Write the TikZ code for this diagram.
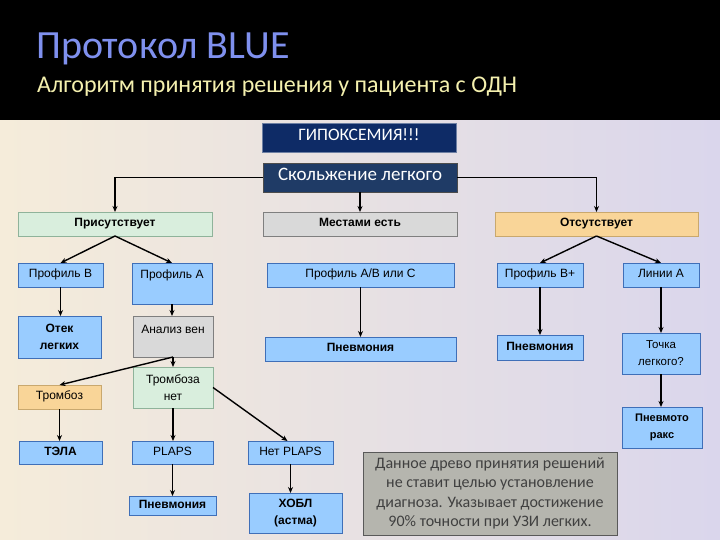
\documentclass[tikz,border=0pt]{standalone}
\usepackage{fontspec}
\setmainfont{Liberation Sans}
\newfontfamily\calib{Carlito}
\usetikzlibrary{arrows.meta}
\definecolor{bluef}{HTML}{99CCFF}
\definecolor{blued}{HTML}{3F6FB8}
\definecolor{greenf}{HTML}{D9EEDD}
\definecolor{greend}{HTML}{8FB39A}
\definecolor{greyf}{HTML}{D9D9D9}
\definecolor{greyd}{HTML}{7F7F7F}
\definecolor{orangef}{HTML}{F9D598}
\definecolor{oranged}{HTML}{C9A86E}
\definecolor{navyf}{HTML}{0E2B66}
\definecolor{darkbf}{HTML}{1F3B66}
\definecolor{notef}{HTML}{B5B5AE}
\definecolor{titleblue}{HTML}{7F90EE}
\definecolor{titleyellow}{HTML}{F4F0AE}
\definecolor{bgleft}{HTML}{F5ECDA}
\definecolor{bgright}{HTML}{DAD6EC}
\tikzset{
  base/.style={draw, line width=0.9pt, inner sep=0pt, outer sep=0pt, align=center, font=\fontsize{12}{16.5}\selectfont},
  one/.style={text height=0.72em, text depth=0.2em},
  bluebox/.style={base, fill=bluef, draw=blued},
  greenbox/.style={base, fill=greenf, draw=greend},
  greybox/.style={base, fill=greyf, draw=greyd},
  orangebox/.style={base, fill=orangef, draw=oranged},
  bld/.style={font=\fontsize{12}{16.5}\selectfont\bfseries},
  arr/.style={line width=1.4pt, -{Stealth[length=6pt,width=5pt]}},
  plain/.style={inner sep=0pt, font=\fontsize{12}{14}\selectfont}
}
\begin{document}
\begin{tikzpicture}[x=1pt,y=-1pt]
\useasboundingbox (0,0) rectangle (720,540);
\shade[left color=bgleft, right color=bgright] (0,120) rectangle (720,540);
\fill[black] (0,0) rectangle (720,120);
\node[anchor=base west, inner sep=0pt, text=titleblue, font=\calib\fontsize{40}{42}\selectfont] (title) at (36,59) {Протокол BLUE};
\node[anchor=base west, inner sep=0pt, text=titleyellow, font=\calib\fontsize{24}{26}\selectfont] (subtitle) at (37,93) {Алгоритм принятия решения у пациента с ОДН};

% top
\node[base, one, fill=navyf, draw=navyf!60!white, text=white, minimum width=194, minimum height=29, font=\calib\fontsize{17.5}{19}\selectfont] (hyp) at (359,137.5) {ГИПОКСЕМИЯ!!!};
\node[base, one, fill=darkbf, draw=black!70, text=white, minimum width=194, minimum height=29, font=\calib\fontsize{19}{21}\selectfont] (sl) at (360,177.5) {Скольжение легкого};

% row 1
\node[greenbox, one, bld, minimum width=194, minimum height=24] (pres) at (115,224) {Присутствует};
\node[greybox, one, bld, minimum width=194, minimum height=24] (mest) at (360,224) {Местами есть};
\node[orangebox, one, bld, minimum width=203, minimum height=24] (abs) at (596.5,224) {Отсутствует};

% row 2
\node[bluebox, one, minimum width=85, minimum height=24] (pB) at (60.5,275) {Профиль B};
\node[bluebox, minimum width=80, minimum height=41] (pA) at (172,283.5) {};
\node[plain] (pAt) at (172,275) {Профиль A};
\node[bluebox, one, minimum width=187, minimum height=24] (abc) at (360.5,275) {Профиль A/B или C};
\node[bluebox, one, minimum width=86, minimum height=24] (pBp) at (540,275) {Профиль B+};
\node[bluebox, one, minimum width=76, minimum height=24] (linA) at (661,275) {Линии A};

% row 3
\node[bluebox, bld, minimum width=83, minimum height=42] (otek) at (59.5,337) {Отек\\легких};
\node[greybox, minimum width=80, minimum height=41] (vein) at (173,336.5) {};
\node[plain] (veint) at (173,329) {Анализ вен};
\node[bluebox, one, bld, minimum width=191, minimum height=24] (pnM) at (360.5,349) {Пневмония};
\node[bluebox, one, bld, minimum width=86, minimum height=25] (pnR) at (540,347.5) {Пневмония};
\node[bluebox, minimum width=78, minimum height=41, font=\fontsize{11.5}{17}\selectfont] (tochka) at (661,353.5) {Точка\\легкого?};

% row 4
\node[orangebox, one, minimum width=83, minimum height=24] (tromb) at (59.5,397) {Тромбоз};
\node[greenbox, minimum width=80, minimum height=41, font=\fontsize{12}{17}\selectfont] (trnet) at (173,387.5) {Тромбоза\\нет};
\node[bluebox, minimum width=80, minimum height=41, font=\fontsize{11}{17}\selectfont\bfseries] (ptx) at (662,427.5) {Пневмото\\ракс};

% row 5
\node[bluebox, one, bld, minimum width=83, minimum height=23] (tela) at (60.5,452.5) {ТЭЛА};
\node[bluebox, one, minimum width=81, minimum height=23] (plaps) at (172.5,452.5) {PLAPS};
\node[bluebox, one, minimum width=85, minimum height=23] (noplaps) at (290.5,452.5) {Нет PLAPS};

% row 6
\node[bluebox, one, bld, minimum width=87, minimum height=19] (pnB) at (172.5,505.5) {Пневмония};
\node[bluebox, minimum width=93, minimum height=40, font=\fontsize{12}{17}\selectfont\bfseries] (hobl) at (295.5,513) {ХОБЛ\\(астма)};

% note
\node[base, fill=notef, draw=black!65, text=black!75, minimum width=254, minimum height=83, font=\calib\fontsize{16}{19.3}\selectfont] (note) at (490,493.5) {Данное древо принятия решений\\не ставит целью установление\\диагноза. Указывает достижение\\90\% точности при УЗИ легких.};

% connectors
\draw[arr] (sl.west) -| (pres.north);
\draw[arr] (sl.east) -| (abs.north);
\draw[arr] (sl.south) -- (mest.north);
\draw[arr] (pres.south) -- (pB.north);
\draw[arr] (pres.south) -- (pA.north);
\draw[arr] (abs.south) -- (pBp.north);
\draw[arr] (abs.south) -- (linA.north);
\draw[arr] (pB.south) -- (pB.south |- otek.north);
\draw[arr] (pA.south) -- (pA.south |- vein.north);
\draw[arr] (vein.south) -- (vein.south |- trnet.north);
\draw[arr] (vein.south) -- (tromb.north);
\draw[arr] (trnet.east) -- ([xshift=-3pt]noplaps.north);
\draw[arr] (tromb.south) -- (tromb.south |- tela.north);
\draw[arr] (trnet.south) -- (trnet.south |- plaps.north);
\draw[arr] (plaps.south) -- (plaps.south |- pnB.north);
\draw[arr] (noplaps.south) -- (noplaps.south |- hobl.north);
\draw[arr] (abc.south) -- (abc.south |- pnM.north);
\draw[arr] (pBp.south) -- (pnR.north);
\draw[arr] (linA.south) -- (tochka.north);
\draw[arr] (tochka.south) -- (tochka.south |- ptx.north);
\end{tikzpicture}
\end{document}
